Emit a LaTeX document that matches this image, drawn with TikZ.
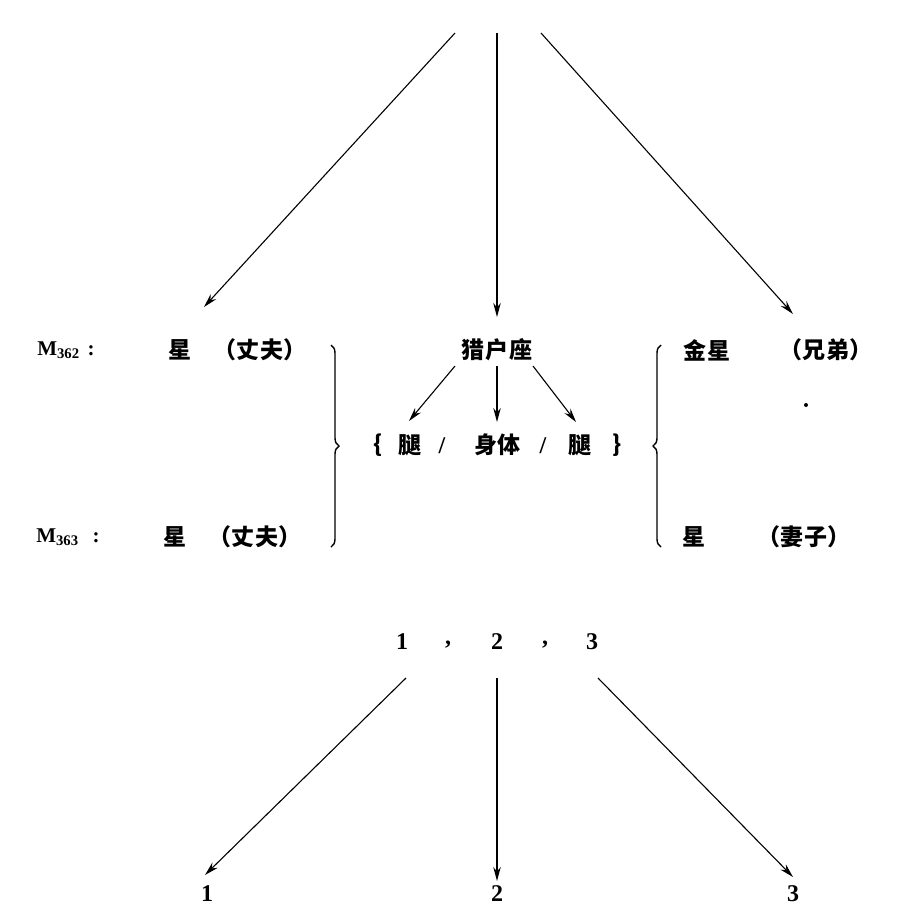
\documentclass[tikz,border=0pt]{standalone}
\usepackage{fontspec}
\setmainfont{Liberation Serif}
\newfontfamily\cjk{Noto Sans CJK SC}
\usetikzlibrary{arrows.meta,decorations.pathreplacing}

\tikzset{
	zh/.style={inner sep=0.75pt, font=\cjk\bfseries\fontsize{23}{25}\selectfont},
	num/.style={inner sep=0.75pt, font=\bfseries\fontsize{24}{26}\selectfont},
	slash/.style={inner sep=0.75pt, font=\bfseries\fontsize{24}{26}\selectfont},
	arr/.style={line width=1.1pt, -{Stealth[length=14pt,width=7.5pt]}},
	bigbrace/.style={line width=1.4pt, decorate, decoration={brace, amplitude=8pt}}
}

\begin{document}
\begin{tikzpicture}[x=1pt,y=1pt,yscale=-1,xscale=1]
		\useasboundingbox (0,0) rectangle (906,922);

		% Free ends of the three top arrows
		\coordinate (topL) at (455,33);
		\coordinate (topM) at (497,33);
		\coordinate (topR) at (541,33);
		\coordinate (tipL) at (204,307);
		\coordinate (tipM) at (497,317);
		\coordinate (tipR) at (793,314);

		% First row: husband, Orion, brother
		\node (m362) at (66,350) [num, font=\bfseries\fontsize{21}{23}\selectfont] {M\textsubscript{362}\hspace{8pt}:};
		\node (xingA) at (180,350) [zh] {星};
		\node (zfA) at (260,350) [zh] {（丈\hspace{2pt}夫）};
		\node (orion) at (497,350) [zh] {猎\hspace{1pt}户\hspace{1pt}座};
		\node (jinxing) at (707,350) [zh] {金\hspace{1pt}星};
		\node (xdi) at (826,350) [zh] {（兄\hspace{2pt}弟）};

		% Legs and body of Orion
		\node (lbr) at (378,445) [zh] {\{};
		\node (legL) at (410,445) [zh] {腿};
		\node (slashA) at (442,446) [slash] {/};
		\node (body) at (497,445) [zh] {身体};
		\node (slashB) at (543,446) [slash] {/};
		\node (legR) at (580,445) [zh] {腿};
		\node (rbr) at (617,445) [zh] {\}};

		% Second row: husband, wife
		\node (m363) at (68,537) [num, font=\bfseries\fontsize{21}{23}\selectfont] {M\textsubscript{363}\hspace{14pt}:};
		\node (xingB) at (175,537) [zh] {星};
		\node (zfB) at (255,537) [zh] {（丈\hspace{2pt}夫）};
		\node (xingC) at (694,537) [zh] {星};
		\node (qizi) at (804,537) [zh] {（妻\hspace{2pt}子）};

		% The stray dot below the brother
		\fill (806,405) circle (2);

		% Top arrows
		\draw[arr] (topL) -- (tipL);
		\draw[arr] (topM) -- (tipM);
		\draw[arr] (topR) -- (tipR);

		% Arrows from Orion to its parts
		\coordinate (oriL) at (455,366);
		\coordinate (oriM) at (497,366);
		\coordinate (oriR) at (533,366);
		\coordinate (legLtip) at (409,421);
		\coordinate (bodytip) at (497,422);
		\coordinate (legRtip) at (576,422);
		\draw[arr] (oriL) -- (legLtip);
		\draw[arr] (oriM) -- (bodytip);
		\draw[arr] (oriR) -- (legRtip);

		% Braces
		\draw[bigbrace] (331,345) -- (331,547);
		\draw[bigbrace] (661,547) -- (661,345);

		% One, two, three
		\node (n1) at (402,642) [num] {1};
		\node (c1) at (448,645) [num] {,};
		\node (n2) at (497,642) [num] {2};
		\node (c2) at (545,645) [num] {,};
		\node (n3) at (592,642) [num] {3};

		% Bottom arrows
		\coordinate (botL) at (406,678);
		\coordinate (botM) at (497,678);
		\coordinate (botR) at (598,678);
		\coordinate (tip1) at (205,875);
		\coordinate (tip2) at (497,881);
		\coordinate (tip3) at (793,877);
		\node (b1) at (207,894) [num] {1};
		\node (b2) at (497,894) [num] {2};
		\node (b3) at (793,894) [num] {3};
		\draw[arr] (botL) -- (tip1);
		\draw[arr] (botM) -- (tip2);
		\draw[arr] (botR) -- (tip3);
	\end{tikzpicture}
\end{document}
